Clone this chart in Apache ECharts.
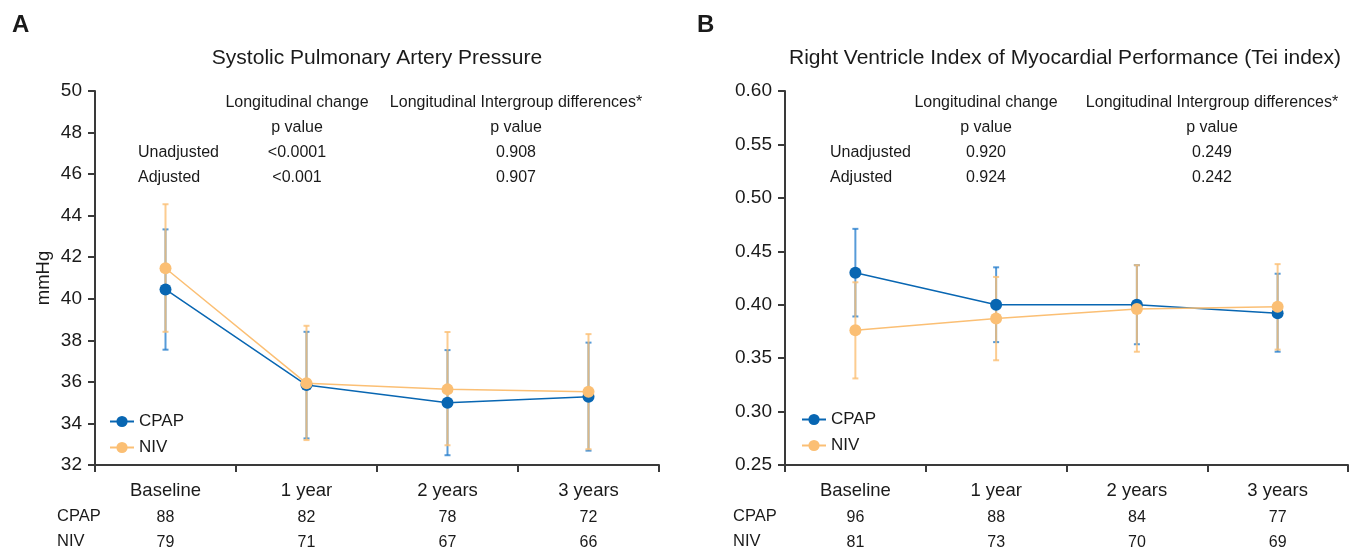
<!DOCTYPE html>
<html>
<head>
<meta charset="utf-8">
<script src="https://cdn.jsdelivr.net/npm/echarts@6/dist/echarts.min.js"></script>
<style>
  html, body { margin: 0; padding: 0; background: #fff; }
  #chart { width: 1351px; height: 548px; }
</style>
</head>
<body>
<div id="chart"></div>
<script>
// categories and patient counts
const categories = ['Baseline', '1 year', '2 years', '3 years'];
const spapCpapN = [88, 82, 78, 72];
const spapNivN = [79, 71, 67, 66];
const teiCpapN = [96, 88, 84, 77];
const teiNivN = [81, 73, 70, 69];

// panel A - systolic pulmonary artery pressure (mmHg)
const spapCpapMean = [40.45, 35.85, 35.0, 35.29];
const spapCpapLow = [37.55, 33.28, 32.47, 32.69];
const spapCpapHigh = [43.34, 38.41, 37.53, 37.89];
const spapNivMean = [41.47, 35.93, 35.64, 35.53];
const spapNivLow = [38.41, 33.20, 32.95, 32.76];
const spapNivHigh = [44.55, 38.70, 38.40, 38.30];

// panel B - Tei index
const teiCpapMean = [0.430, 0.400, 0.400, 0.392];
const teiCpapLow = [0.389, 0.365, 0.363, 0.356];
const teiCpapHigh = [0.471, 0.435, 0.437, 0.429];
const teiNivMean = [0.376, 0.387, 0.396, 0.398];
const teiNivLow = [0.331, 0.348, 0.356, 0.358];
const teiNivHigh = [0.421, 0.426, 0.437, 0.438];

// p value tables
const pHeaders = ['Longitudinal change', 'Longitudinal Intergroup differences*'];
const pRows = ['Unadjusted', 'Adjusted'];
const spapP = [['<0.0001', '0.908'], ['<0.001', '0.907']];
const teiP = [['0.920', '0.249'], ['0.924', '0.242']];

const FONT = "'Liberation Sans', Arial, Helvetica, sans-serif";
const BLUE = '#0866b2';
const ORANGE = '#fbbf74';
const AXIS = '#3a3a3a';
const TXT = '#1a1a1a';

function errorData(low, high) {
    return low.map((v, i) => [i, v, high[i]]);
}

function errorBar(color, opacity) {
    return function (params, api) {
        const i = api.value(0);
        const lo = api.coord([i, api.value(1)]);
        const hi = api.coord([i, api.value(2)]);
        const w = 3;
        const style = { stroke: color, lineWidth: 2, opacity: opacity };
        return {
            type: 'group',
            children: [
                { type: 'line', shape: { x1: lo[0], y1: lo[1], x2: hi[0], y2: hi[1] }, style: style },
                { type: 'line', shape: { x1: lo[0] - w, y1: lo[1], x2: lo[0] + w, y2: lo[1] }, style: style },
                { type: 'line', shape: { x1: hi[0] - w, y1: hi[1], x2: hi[0] + w, y2: hi[1] }, style: style }
            ]
        };
    };
}

function xAxisFor(idx, cpapN, nivN) {
    return {
        type: 'category',
        gridIndex: idx,
        data: categories,
        axisLine: { lineStyle: { color: AXIS, width: 2 } },
        axisTick: { show: true, length: 7, lineStyle: { color: AXIS, width: 2 } },
        axisLabel: {
            margin: 12,
            interval: 0,
            formatter: function (v, i) {
                return '{c|' + v + '}\n{n|' + cpapN[i] + '}\n{n|' + nivN[i] + '}';
            },
            rich: {
                c: { fontFamily: FONT, fontSize: 18.5, color: TXT, lineHeight: 28 },
                n: { fontFamily: FONT, fontSize: 16, color: TXT, lineHeight: 25 }
            }
        }
    };
}

function yAxisFor(idx, min, max, step, digits, name) {
    return {
        type: 'value',
        gridIndex: idx,
        min: min, max: max, interval: step,
        name: name,
        nameLocation: 'middle',
        nameGap: 42,
        nameTextStyle: { fontFamily: FONT, fontSize: 18.5, color: TXT },
        splitLine: { show: false },
        axisLine: { show: true, lineStyle: { color: AXIS, width: 2 } },
        axisTick: { show: true, length: 7, lineStyle: { color: AXIS, width: 2 } },
        axisLabel: {
            margin: 13,
            fontFamily: FONT, fontSize: 19, color: TXT,
            formatter: v => v.toFixed(digits)
        }
    };
}

function lineSeries(name, idx, data, color) {
    return {
        name: name, type: 'line',
        xAxisIndex: idx, yAxisIndex: idx,
        data: data,
        symbol: 'circle', symbolSize: 12,
        itemStyle: { color: color },
        lineStyle: { color: color, width: 1.5 },
        z: 5, animation: false
    };
}

function errSeries(idx, low, high, color, opacity) {
    return {
        type: 'custom', name: 'err',
        xAxisIndex: idx, yAxisIndex: idx,
        data: errorData(low, high),
        encode: { x: 0, y: [1, 2] },
        renderItem: errorBar(color, opacity),
        z: 2, silent: true, animation: false
    };
}

function pTable(xRow, xCol1, xCol2, values) {
    const items = [];
    const mk = (x, y, s, align) => ({
        type: 'text', x: x, y: y,
        style: { text: s, font: '16px ' + FONT, fill: TXT, align: align, verticalAlign: 'middle' }
    });
    items.push(mk(xCol1, 103, pHeaders[0], 'center'));
    items.push(mk(xCol2, 103, pHeaders[1], 'center'));
    items.push(mk(xCol1, 128, 'p value', 'center'));
    items.push(mk(xCol2, 128, 'p value', 'center'));
    pRows.forEach((r, k) => {
        const y = 153 + k * 25;
        items.push(mk(xRow, y, r, 'left'));
        items.push(mk(xCol1, y, values[k][0], 'center'));
        items.push(mk(xCol2, y, values[k][1], 'center'));
    });
    return items;
}

function label(x, y, s, size, weight, align) {
    return {
        type: 'text', x: x, y: y,
        style: { text: s, font: (weight || 'normal') + ' ' + size + 'px ' + FONT, fill: TXT, align: align || 'left', verticalAlign: 'middle' }
    };
}

function legendAt(left, top) {
    return {
        data: ['CPAP', 'NIV'], orient: 'vertical', left: left, top: top,
        itemWidth: 24, itemHeight: 14, itemGap: 9,
        textStyle: { fontFamily: FONT, fontSize: 17, color: TXT }
    };
}

const chart = echarts.init(document.getElementById('chart'));

const option = {
    animation: false,
    backgroundColor: '#fff',
    grid: [
        { left: 95, right: 692, top: 91, bottom: 83, outerBoundsMode: 'none', containLabel: false },
        { left: 785, right: 3, top: 91, bottom: 83, outerBoundsMode: 'none', containLabel: false }
    ],
    legend: [legendAt(104, 408), legendAt(796, 406)],
    xAxis: [xAxisFor(0, spapCpapN, spapNivN), xAxisFor(1, teiCpapN, teiNivN)],
    yAxis: [
        yAxisFor(0, 32, 50, 2, 0, 'mmHg'),
        yAxisFor(1, 0.25, 0.60, 0.05, 2, '')
    ],
    series: [
        errSeries(0, spapCpapLow, spapCpapHigh, '#1f7acb', 0.75),
        errSeries(0, spapNivLow, spapNivHigh, ORANGE, 0.8),
        lineSeries('CPAP', 0, spapCpapMean, BLUE),
        lineSeries('NIV', 0, spapNivMean, ORANGE),
        errSeries(1, teiCpapLow, teiCpapHigh, '#1f7acb', 0.75),
        errSeries(1, teiNivLow, teiNivHigh, ORANGE, 0.8),
        lineSeries('CPAP', 1, teiCpapMean, BLUE),
        lineSeries('NIV', 1, teiNivMean, ORANGE)
    ],
    graphic: [
        label(12, 25, 'A', 24, 'bold'),
        label(697, 25, 'B', 24, 'bold'),
        label(377, 58, 'Systolic Pulmonary Artery Pressure', 21, 'normal', 'center'),
        label(1065, 58, 'Right Ventricle Index of Myocardial Performance (Tei index)', 21, 'normal', 'center'),
        label(57, 516, 'CPAP', 16.5),
        label(57, 541, 'NIV', 16.5),
        label(733, 516, 'CPAP', 16.5),
        label(733, 541, 'NIV', 16.5)
    ].concat(pTable(138, 297, 516, spapP), pTable(830, 986, 1212, teiP))
};

chart.setOption(option);
</script>
</body>
</html>
